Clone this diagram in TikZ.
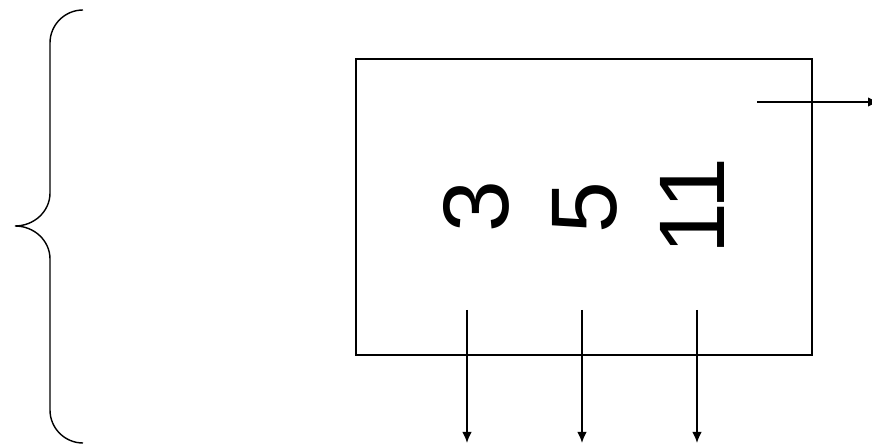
\documentclass[tikz,border=0pt]{standalone}
\usepackage{fontspec}
\setmainfont{Liberation Sans}
\usepackage{tikz}
\usetikzlibrary{arrows,arrows.meta}
\usetikzlibrary{calc,positioning}
\tikzset{>={Latex[length=2.2mm,width=1.9mm]}}
\tikzset{zahl/.style={rotate=90, inner sep=0pt, font=\fontsize{53}{60}\selectfont}}

\begin{document}
\begin{tikzpicture}[thick]
	\useasboundingbox (0,0) rectangle (17.44,8.9);

	% Klammer links
	\draw (1.66,8.70) arc (90:180:0.66) -- (1.00,5.04) arc (0:-90:0.70 and 0.66)
		arc (90:0:0.70 and 0.66) -- (1.00,0.70) arc (180:270:0.66);

	\node[draw, minimum width=9.12cm, minimum height=5.92cm, inner sep=0pt] (box) at (11.68,4.76) {};

	\node[zahl] (drei) at (9.52,4.76) {3};
	\node[zahl] (fuenf) at (11.70,4.74) {5};
	\node[zahl] (elf) at (13.84,4.78) {11};

	\coordinate (a1) at (9.34,2.70);
	\coordinate (a2) at (11.64,2.70);
	\coordinate (a3) at (13.94,2.70);
	\coordinate (b1) at (9.34,0.04);
	\coordinate (b2) at (11.64,0.04);
	\coordinate (b3) at (13.94,0.04);
	\coordinate (r1) at (15.14,6.86);
	\coordinate (r2) at (17.58,6.86);

	\draw[->] (a1) -- (b1);
	\draw[->] (a2) -- (b2);
	\draw[->] (a3) -- (b3);
	\draw[->] (r1) -- (r2);
\end{tikzpicture}
\end{document}
